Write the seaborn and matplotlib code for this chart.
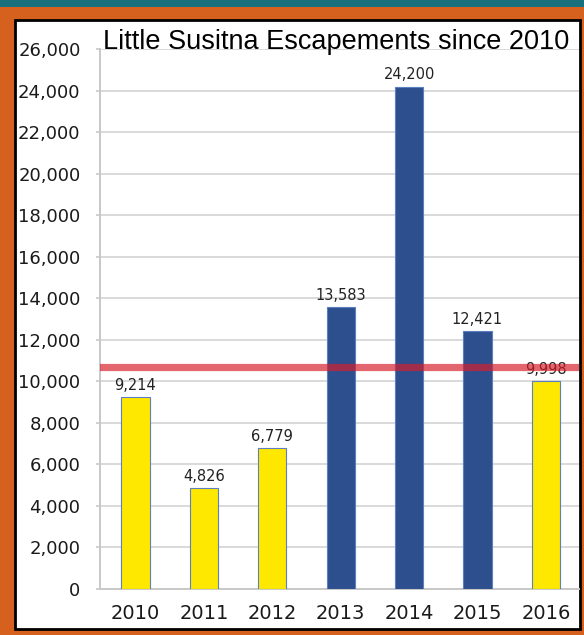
import matplotlib
matplotlib.use("Agg")
import matplotlib.pyplot as plt
import seaborn as sns
import pandas as pd
from matplotlib.patches import Rectangle

# ---- data ----
years = ["2010", "2011", "2012", "2013", "2014", "2015", "2016"]
escapement = [9214, 4826, 6779, 13583, 24200, 12421, 9998]
bar_colors = ["#ffe800", "#ffe800", "#ffe800", "#2e4f8e", "#2e4f8e", "#2e4f8e", "#ffe800"]
goal_line = 10700
y_ticks = list(range(0, 26001, 2000))
title = "Little Susitna Escapements since 2010"

df = pd.DataFrame({"year": years, "fish": escapement})

sns.set_theme(style="white")
plt.rcParams["font.family"] = ["DejaVu Sans"]

W, H = 584, 635
fig = plt.figure(figsize=(W / 100, H / 100), dpi=100)
fig.patch.set_facecolor("#d6601e")

# top teal band
fig.patches.append(Rectangle((0, 1 - 7 / H), 1, 7 / H, transform=fig.transFigure,
                             facecolor="#17707c", edgecolor="none", zorder=-10))
# white panel with black border
fig.patches.append(Rectangle((15 / W, 1 - 629 / H), (580 - 15) / W, (629 - 20) / H,
                             transform=fig.transFigure, facecolor="white",
                             edgecolor="black", linewidth=2, zorder=-10))

ax = fig.add_axes([100 / W, 1 - 588.5 / H, (579 - 100) / W, (588.5 - 49.3) / H])
ax.set_facecolor("none")
ax.set_zorder(1)

sns.barplot(data=df, x="year", y="fish", hue="year", palette=bar_colors,
            saturation=1, legend=False, width=0.41, ax=ax,
            edgecolor="#5b7fc0", linewidth=0.8, zorder=3)

for c in ax.containers:
    ax.bar_label(c, fmt="{:,.0f}", padding=3, fontsize=10.5, color="#222222", zorder=4)

ax.axhline(goal_line, color="#d71e2a", alpha=0.68, linewidth=5.2, zorder=6)

ax.set_xlim(-0.519, 6.484)
ax.set_ylim(0, 26000)
ax.set_yticks(y_ticks)
ax.set_yticklabels([f"{v:,}" for v in y_ticks])
ax.grid(axis="y", color="#d9d9d9", linewidth=1.4, zorder=0)
ax.set_axisbelow(True)
ax.set_xlabel("")
ax.set_ylabel("")

for s in ["top", "right"]:
    ax.spines[s].set_visible(False)
for s in ["left", "bottom"]:
    ax.spines[s].set_color("#c8c8c8")
    ax.spines[s].set_linewidth(1.4)

ax.tick_params(axis="y", left=True, length=3, width=1.2, color="#c8c8c8",
               pad=11, labelsize=13, labelcolor="#1a1a1a")
ax.tick_params(axis="x", bottom=False, pad=5, labelsize=14, labelcolor="#1a1a1a")

fig.text(336 / W, 1 - 49 / H, title, ha="center", va="baseline",
         fontsize=19.5, family=["Liberation Sans"], color="black", zorder=5)

fig.savefig("out.png", dpi=100, facecolor=fig.get_facecolor())
